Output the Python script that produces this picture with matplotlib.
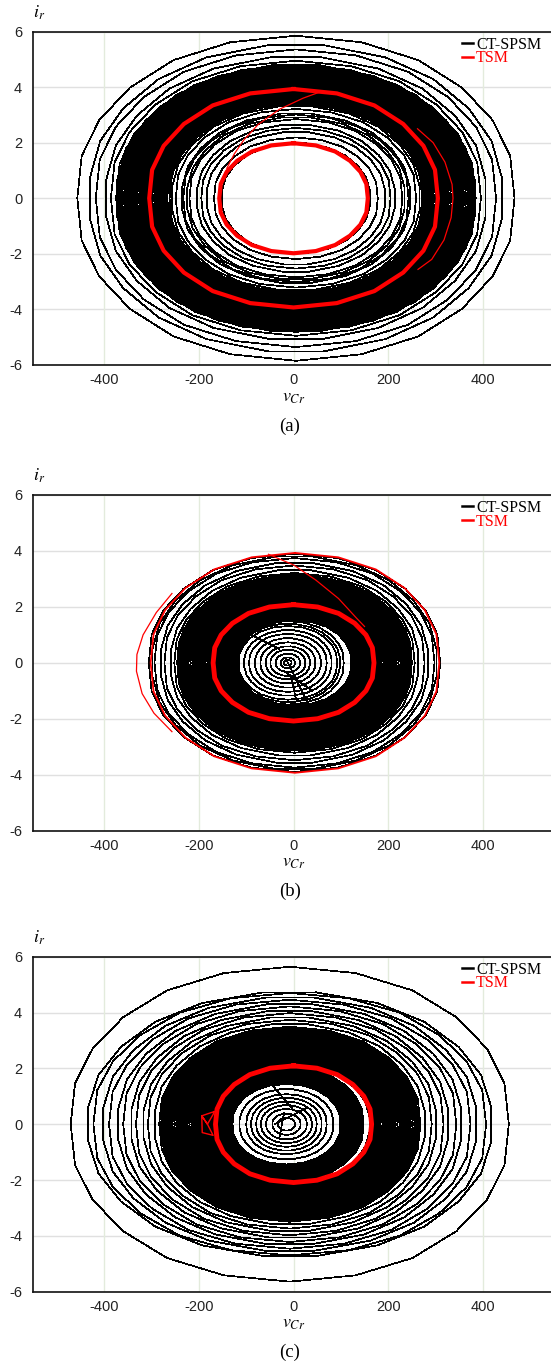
import numpy as np
import matplotlib
matplotlib.use("Agg")
import matplotlib.pyplot as plt
from matplotlib.lines import Line2D

plt.rcParams['font.family'] = ['Liberation Sans', 'DejaVu Sans']
plt.rcParams['mathtext.fontset'] = 'stix'
plt.rcParams['axes.unicode_minus'] = False

# ---------------- data ----------------
x_ticks = [-400, -200, 0, 200, 400]
y_ticks = [-6, -4, -2, 0, 2, 4, 6]
series_names = ["CT-SPSM", "TSM"]
panel_labels = ["(a)", "(b)", "(c)"]

# normalised shapes of one loop of the trajectory (v, i); two vertex layouts
shape_a_v = [0.00, 0.30, 0.56, 0.76, 0.90, 0.98, 1.00, 0.98, 0.90, 0.76, 0.56, 0.30, 0.00,
             -0.30, -0.56, -0.76, -0.90, -0.98, -1.00, -0.98, -0.90, -0.76, -0.56, -0.30, 0.00]
shape_a_i = [1.00, 0.96, 0.85, 0.68, 0.48, 0.26, 0.00, -0.26, -0.48, -0.68, -0.85, -0.96, -1.00,
             -0.96, -0.85, -0.68, -0.48, -0.26, 0.00, 0.26, 0.48, 0.68, 0.85, 0.96, 1.00]
shape_b_v = [0.13, 0.43, 0.66, 0.83, 0.94, 0.99, 0.99, 0.94, 0.83, 0.66, 0.43, 0.13,
             -0.13, -0.43, -0.66, -0.83, -0.94, -0.99, -0.99, -0.94, -0.83, -0.66, -0.43, -0.13, 0.13]
shape_b_i = [0.99, 0.91, 0.77, 0.58, 0.37, 0.13, -0.13, -0.37, -0.58, -0.77, -0.91, -0.99,
             -0.99, -0.91, -0.77, -0.58, -0.37, -0.13, 0.13, 0.37, 0.58, 0.77, 0.91, 0.99, 0.99]

# panel (a) CT-SPSM loops: v half-width
a_loops_v = [462, 440, 423, 405, 391, 382, 380, 378, 376, 374, 372, 370, 368, 366, 364, 362,
             360, 358, 356, 354, 352, 350, 348, 346, 344, 342, 340, 338, 336, 334, 332, 330,
             328, 326, 324, 322, 320, 318, 316, 314, 312, 310, 308, 306, 304, 302, 300, 298,
             296, 294, 292, 290, 288, 286, 284, 282, 280, 278, 276, 274, 272, 270, 267, 264,
             254, 243, 238, 232, 225, 211, 200, 190, 173, 158]
a_center = 5
a_ratio = 79.0
# panel (a) TSM
a_red_loops = [(305, 3.93), (157, 1.98)]
a_red_arc1_v = [60, 20, -30, -75, -105, -125, -141]
a_red_arc1_i = [3.85, 3.6, 3.2, 2.65, 2.1, 1.6, 1.08]
a_red_arc2_v = [262, 295, 320, 335, 337, 333, 318, 292, 263]
a_red_arc2_i = [2.5, 2.0, 1.3, 0.5, 0.0, -0.7, -1.5, -2.2, -2.56]

# panel (b) CT-SPSM
b_loops_v = [308, 303, 296, 285, 275, 264, 254, 250, 248, 246, 244, 242, 240, 238, 236, 234,
             232, 230, 228, 226, 224, 222, 220, 218, 216, 214, 212, 210, 208, 206, 204, 202,
             200, 198, 196, 194, 192, 190, 188, 186, 184, 182, 180, 178, 176, 174, 172, 170,
             168, 166, 164, 162, 160, 158, 156, 154, 152, 150, 148, 146, 144, 142, 140, 138,
             136, 134, 132, 130, 128, 126, 124, 122, 120]
b_center = 2
b_ratio = 79.0
b_inner_v = [118, 111, 104, 93, 82, 70, 58, 47, 37, 26, 15, 8]
b_inner_center = -12
b_jump_v = [[-15, 35], [-5, 5], [-30, -90], [-20, 40]]
b_jump_i = [[0.1, -1.6], [-0.5, -1.3], [0.5, 1.0], [-0.3, -1.0]]
# panel (b) TSM
b_red_thick = (170, 2.08)
b_red_thin = (305, 3.93)
b_red_arc1_v = [-257, -290, -318, -331, -332, -320, -295, -257]
b_red_arc1_i = [2.48, 1.8, 1.0, 0.3, -0.3, -1.1, -1.8, -2.46]
b_red_arc2_v = [-53, 0, 47, 95, 133, 150]
b_red_arc2_i = [3.88, 3.5, 2.96, 2.3, 1.6, 1.3]

# panel (c) CT-SPSM: outer loops (v half-width, i amplitude), middle band, inner loops
c_outer_v = [463, 430, 415, 398, 382, 366, 352, 338, 325, 312, 300, 288]
c_outer_i = [5.64, 4.77, 4.70, 4.58, 4.46, 4.34, 4.22, 4.10, 3.98, 3.86, 3.74, 3.62]
c_mid_v = [276, 274, 272, 270, 268, 266, 264, 262, 260, 258, 256, 254, 252, 250, 248, 246,
           244, 242, 240, 238, 236, 234, 232, 230, 228, 226, 224, 222, 220, 218, 216, 214,
           212, 210, 208, 206, 204, 202, 200, 198, 196, 194, 192, 190, 188, 186, 184, 182,
           180, 178, 176, 174, 172, 170]
c_center = -8
c_inner_v = [163, 161, 159, 157, 155, 153, 151, 149, 147, 145, 143, 141, 139, 137, 135, 133,
             131, 129, 127, 125, 123, 121, 119, 117, 114, 100, 85, 75, 64, 54, 43, 30, 18]
c_inner_center = -15
c_ratio = 79.0
c_jump_v = [[-50, 0], [-40, 30], [20, -40], [-20, -30]]
c_jump_i = [[1.5, 0.5], [0.0, 0.6], [3.2, 2.2], [0.4, -0.5]]
# panel (c) TSM
c_red_thick = (165, 2.09)
c_red_bow_v = [-168, -194, -193, -170, -182, -194, -182, -170, -168]
c_red_bow_i = [0.45, 0.30, -0.30, -0.40, 0.0, 0.30, 0.0, 0.35, 0.45]

# ---------------- drawing ----------------
W, H = 551, 1363
fig = plt.figure(figsize=(W / 100, H / 100), dpi=100)
shapes = [(np.array(shape_a_v), np.array(shape_a_i)),
          (np.array(shape_b_v), np.array(shape_b_i))]
BLACK_LW = 0.5
RED = '#ff0000'

ax_left = 33.3 / W
ax_width = (553.8 - 33.3) / W
tops = [31.5, 495.0, 956.7]
bottoms = [365.0, 830.7, 1291.7]


def loop(ax, k, hw, ia, cv, **kw):
    sv, si = shapes[k % 2]
    ax.plot(cv + hw * sv, ia * si, solid_joinstyle='round', **kw)


def black_loop(ax, k, hw, ia, cv):
    loop(ax, k, hw, ia, cv, color='black', lw=BLACK_LW, zorder=2, antialiased=False)


def setup(ax, top_px, bottom_px, label):
    ax.set_xlim(-550, 550)
    ax.set_ylim(-6, 6)
    ax.set_xticks(x_ticks)
    ax.set_yticks(y_ticks)
    ax.tick_params(length=0, labelsize=10.5, labelcolor='#222222')
    ax.tick_params(axis='x', pad=6)
    ax.tick_params(axis='y', pad=8)
    for s in ['left', 'bottom', 'top']:
        ax.spines[s].set_linewidth(1.2)
        ax.spines[s].set_color('#111111')
    ax.spines['right'].set_visible(False)
    ax.set_axisbelow(True)
    for y in y_ticks:
        ax.axhline(y, color='#e0e0e0', lw=1.0, zorder=0)
    for x in x_ticks:
        ax.axvline(x, color='#e3ebdc', lw=1.0, zorder=0)
    fig.text(39 / W, 1 - (top_px - 19) / H, r'$i_r$', fontsize=13,
             ha='center', va='center')
    fig.text(293.5 / W, 1 - (bottom_px + 32) / H, r'$v_{Cr}$', fontsize=13,
             ha='center', va='center')
    fig.text(290 / W, 1 - (bottom_px + 61) / H, label, fontsize=13.5,
             family='Liberation Serif', ha='center', va='center')
    handles = [Line2D([], [], color='black', lw=1.8),
               Line2D([], [], color=RED, lw=1.8)]
    leg = ax.legend(handles, series_names, loc='upper right',
                    bbox_to_anchor=(0.976, 0.985), borderaxespad=0, borderpad=0,
                    frameon=False, handlelength=0.7, handletextpad=0.2,
                    labelspacing=-0.15, prop={'family': 'Liberation Serif', 'size': 11.5})
    leg.get_texts()[1].set_color(RED)


axes = []
for k in range(3):
    ax = fig.add_axes([ax_left, 1 - bottoms[k] / H, ax_width, (bottoms[k] - tops[k]) / H])
    axes.append(ax)

# panel (a)
ax = axes[0]
for k, hw in enumerate(a_loops_v):
    black_loop(ax, k, hw, hw / a_ratio, a_center)
for hw, ia in a_red_loops:
    loop(ax, 0, hw, ia, 0, color=RED, lw=3.0, zorder=4)
ax.plot(a_red_arc1_v, a_red_arc1_i, color=RED, lw=0.9, zorder=4)
ax.plot(a_red_arc2_v, a_red_arc2_i, color=RED, lw=0.9, zorder=4)
setup(ax, tops[0], bottoms[0], panel_labels[0])

# panel (b)
ax = axes[1]
for k, hw in enumerate(b_loops_v):
    black_loop(ax, k, hw, hw / b_ratio, b_center)
for k, hw in enumerate(b_inner_v):
    black_loop(ax, k, hw, hw / b_ratio, b_inner_center)
for jv, ji in zip(b_jump_v, b_jump_i):
    ax.plot(jv, ji, color='black', lw=BLACK_LW, zorder=2, antialiased=False)
loop(ax, 0, b_red_thick[0], b_red_thick[1], 0, color=RED, lw=3.5, zorder=4)
loop(ax, 0, b_red_thin[0], b_red_thin[1], 3, color=RED, lw=1.3, zorder=4)
ax.plot(b_red_arc1_v, b_red_arc1_i, color=RED, lw=0.9, zorder=4)
ax.plot(b_red_arc2_v, b_red_arc2_i, color=RED, lw=0.9, zorder=4)
setup(ax, tops[1], bottoms[1], panel_labels[1])

# panel (c)
ax = axes[2]
for k, (hw, ia) in enumerate(zip(c_outer_v, c_outer_i)):
    black_loop(ax, k, hw, ia, c_center)
for k, hw in enumerate(c_mid_v):
    black_loop(ax, k, hw, hw / c_ratio, c_center)
for k, hw in enumerate(c_inner_v):
    black_loop(ax, k, hw, hw / c_ratio, c_inner_center)
for jv, ji in zip(c_jump_v, c_jump_i):
    ax.plot(jv, ji, color='black', lw=BLACK_LW, zorder=2, antialiased=False)
loop(ax, 0, c_red_thick[0], c_red_thick[1], 0, color=RED, lw=3.5, zorder=4)
ax.plot(c_red_bow_v, c_red_bow_i, color=RED, lw=1.0, zorder=4)
setup(ax, tops[2], bottoms[2], panel_labels[2])

fig.savefig('out.png', dpi=100)
